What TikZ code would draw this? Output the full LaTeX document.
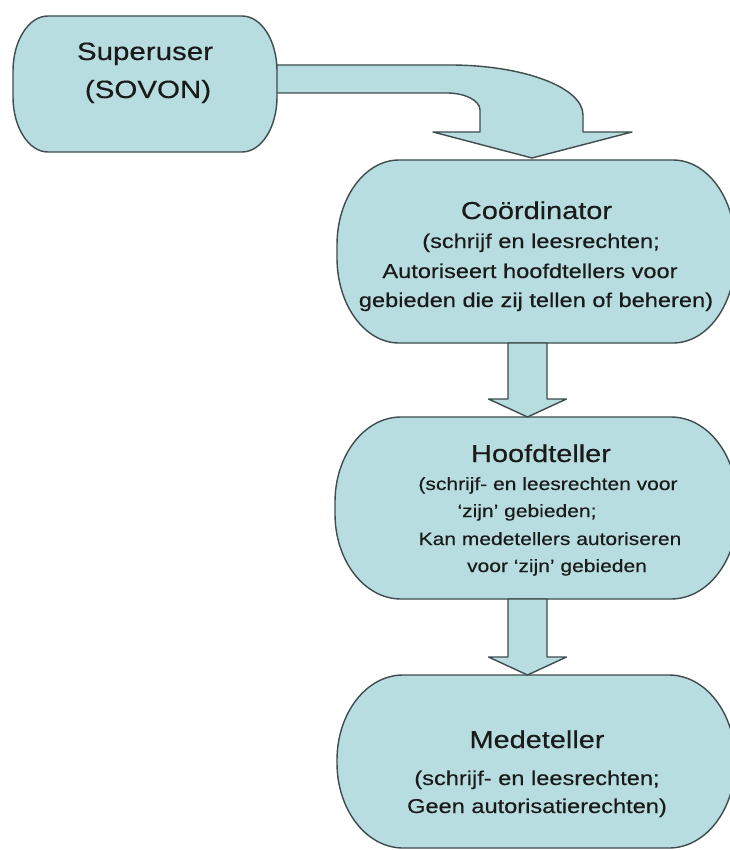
\documentclass[tikz,border=0pt]{standalone}
\usepackage{fontspec}
\setmainfont{Liberation Sans}
\newfontfamily\wfont[FakeStretch=1.18,FakeBold=0.35]{Liberation Sans}
\usetikzlibrary{calc}
\definecolor{boxfill}{HTML}{B7DDE0}
\definecolor{boxdraw}{HTML}{3F4B4D}
\definecolor{txt}{HTML}{1A1A1A}
\newcommand\myebox[3]{%
  \draw[boxline] ([xshift=#2]#1.north west) -- ([xshift=-#2]#1.north east)
    arc[start angle=90,end angle=0,x radius=#2,y radius=#3] -- ([yshift=#3]#1.south east)
    arc[start angle=0,end angle=-90,x radius=#2,y radius=#3] -- ([xshift=#2]#1.south west)
    arc[start angle=270,end angle=180,x radius=#2,y radius=#3] -- ([yshift=-#3]#1.north west)
    arc[start angle=180,end angle=90,x radius=#2,y radius=#3] -- cycle;}
\newcommand\myblockdown[2]{%
  \draw[boxline] ([xshift=-19.5pt]#1) -- ([xshift=-19.5pt,yshift=18pt]#2)
    -- ([xshift=-39pt,yshift=18pt]#2) -- (#2) -- ([xshift=39pt,yshift=18pt]#2)
    -- ([xshift=19.5pt,yshift=18pt]#2) -- ([xshift=19.5pt]#1) -- cycle;}
\begin{document}
\begin{tikzpicture}[x=1pt,y=-1pt,
  boxline/.style={fill=boxfill,draw=boxdraw,line width=1.4pt,line join=round},
  area/.style={inner sep=0pt,outer sep=0pt,draw=none},
  ttl/.style={anchor=base,inner sep=0pt,text=txt,font=\wfont\fontsize{24.5}{29}\selectfont},
  sub/.style={anchor=base,inner sep=0pt,text=txt,font=\wfont\fontsize{20}{24}\selectfont},
  subs/.style={anchor=base,inner sep=0pt,text=txt,font=\wfont\fontsize{17.8}{22}\selectfont}]
\fill[white] (0,0) rectangle (729,850);
\path[use as bounding box] (0,0) rectangle (729,850);

% box areas
\node[area,minimum width=264pt,minimum height=136pt] (su) at (145,84) {};
\node[area,minimum width=398pt,minimum height=183pt] (co) at (536,251.5) {};
\node[area,minimum width=402pt,minimum height=182pt] (ho) at (536,508) {};
\node[area,minimum width=398pt,minimum height=173pt] (me) at (536,761.5) {};

% bent arrow from Superuser to Coordinator
\coordinate (bstart) at (su.east |- 0,65);
\coordinate (btip) at (532,158);
\draw[boxline] ([xshift=-10pt]bstart) -- (450,65)
  arc[start angle=90,end angle=0,x radius=133pt,y radius=50pt]
  -- (583,132) -- (632,132) -- (btip) -- (433,132) -- (480,132) -- (480,110)
  arc[start angle=0,end angle=90,x radius=33pt,y radius=17pt]
  -- ([xshift=-10pt,yshift=-28pt]bstart) -- cycle;

% boxes
\myebox{su}{35pt}{55pt}
\myebox{co}{62pt}{85pt}
\myebox{ho}{66pt}{85pt}
\myebox{me}{66pt}{85pt}

% down arrows
\coordinate (a1top) at (co.south -| 527.5,0);
\coordinate (a1tip) at (ho.north -| 527.5,0);
\coordinate (a2top) at (ho.south -| 527.5,0);
\coordinate (a2tip) at (me.north -| 527.5,0);
\myblockdown{a1top}{a1tip}
\myblockdown{a2top}{a2tip}

% texts
\node[ttl,font=\wfont\fontsize{25}{30}\selectfont] (su1) at (145,60) {Superuser};
\node[ttl,font=\wfont\fontsize{25}{30}\selectfont] (su2) at (148,98) {(SOVON)};

\node[ttl] (co0) at (536.5,219) {Coördinator};
\node[sub] (co1) at (541,248) {(schrijf en leesrechten;};
\node[sub] (co2) at (530,278) {Autoriseert hoofdtellers voor};
\node[sub] (co3) at (536,307) {gebieden die zij tellen of beheren)};

\node[ttl] (ho0) at (541,462) {Hoofdteller};
\node[subs] (ho1) at (548,490) {(schrijf- en leesrechten voor};
\node[subs] (ho2) at (527,517) {‘zijn’ gebieden;};
\node[subs] (ho3) at (550,545) {Kan medetellers autoriseren};
\node[subs] (ho4) at (557,572) {voor ‘zijn’ gebieden};

\node[ttl] (me0) at (537,748) {Medeteller};
\node[sub] (me1) at (537,785) {(schrijf- en leesrechten;};
\node[sub] (me2) at (537,813) {Geen autorisatierechten)};
\end{tikzpicture}
\end{document}
